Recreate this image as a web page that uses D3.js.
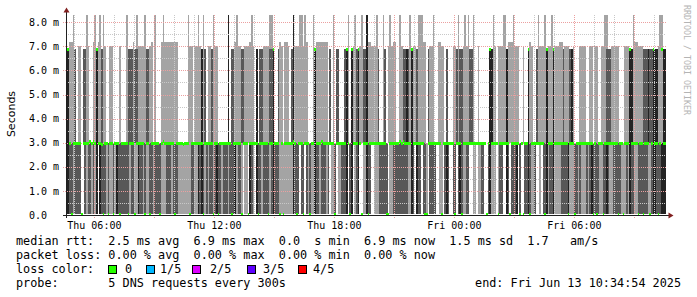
<!DOCTYPE html>
<html>
<head>
<meta charset="utf-8">
<script src="https://cdn.jsdelivr.net/npm/d3@7"></script>
<style>
html, body { margin: 0; padding: 0; background: #fff; }
svg { display: block; }
text { font-family: "DejaVu Sans Mono", monospace; white-space: pre; fill: #000; }
</style>
</head>
<body>
<svg id="chart" width="697" height="297"></svg>
<script>
// ---- data, one char per 5-minute step (360 steps = 30 h) ----
// smoke shade below the 3 ms band: 0 none, 1 light, 2 mid, 3 dark
const smokeLower = [
    "332212222002122121303222121121", "322222221221132212112212222111",
    "222122211111111221132321212212", "322122212223122101103210322122",
    "221232221111111132220220212113", "221222120112011222302301230011",
    "322001112222201122222222211320", "322022102222001102320022023211",
    "220011011220023111012200320222", "302002232112001022312231111222",
    "231112212111212322221122321122", "222111213221122222211233222333"
].join("");
// smoke shade between 3 ms and 7 ms
const smokeUpper = [
    "331112011022110011311211001100", "001000122212211111221101000111",
    "111111100000011101111312011211", "100000030221111221111110302211",
    "112230021101110231111111100003", "111111102010220002310311231122",
    "311111120012011111001122321311", "211111021110011110200011212211",
    "112210010000003311011111311111", "110010031100211111311131111121",
    "112310001111001101100111222111", "110001113311111122232233311133"
].join("");
// top of smoke: 0 normal, 1 slightly higher, 2 light spike to max, 3 dark spike to max
const smokeTop = [
    "001120000000200012012020000000", "000000200010200002000102000121",
    "111111100000020000020020000020", "000000030001200100001200000100",
    "002200001001100030002202100020", "111111100020000000020002000200",
    "311000200020002011002000002000", "022211000020011000000000020002",
    "020020000000000020000022011120", "000000001000020002000200001100",
    "000000000000000000000002200000", "000000000021100000000000002200"
].join("");
// median rtt per step (see medianLevels)
const medianCode = [
    "hhmlmmmmmlmmmmumumhmmdlmmlmmlm", "mmlmmmmlmmmlmmmmmlmmlmmmmmlmum",
    "mmmmmlmmmmdmmmlmmmmmmmlmmmmmlm", "mlmmmmmmmlmmmmmlmmmlmmmmmlmmmm",
    "mlmmhmmmlmlmmmmmumlmmmlmmmlmmh", "mmmummmmmmmlmmmmmmhmlhmmmhmlmm",
    "mlmmmmmmmmmmllmmmmmmumummmmhmm", "mmmmmllmmmmmmmmlmmmmmmmlmmmlmm",
    "mmmmmmmmmmmmlmhmmmmlmmmmmmlmmm", "mmlmlmmhlmmmmmmmmlhmmmhmmmmmmm",
    "mlmmmlmmmmmmmmmmlmlmmmlmmmmmmm", "mlmmlmmmhmmmmlmmlmmmlmhmmlmhmm"
].join("");

const medianLevels = { m: 3.0, u: 3.07, d: 2.93, l: 0.05, h: 6.9 };   // ms
const smokeLevels = { floor: 0.05, band: 3.0, dark: 6.9, light: 7.0, bump: 7.2, spike: 8.3 };
const yTicks = [0, 1, 2, 3, 4, 5, 6, 7, 8];

const legendRows = [
    "median rtt:  2.5 ms avg  6.9 ms max  0.0  s min  6.9 ms now  1.5 ms sd  1.7   am/s",
    "packet loss: 0.00 % avg  0.00 % max  0.00 % min  0.00 % now",
    "loss color:",
    "probe:       5 DNS requests every 300s"
];
const lossLabels = ["0", "1/5", "2/5", "3/5", "4/5"];
const lossColors = ["#26ff00", "#00b8ff", "#dd00ff", "#5e00ff", "#ff0000"];
const endLabel = "end: Fri Jun 13 10:34:54 2025";
const endTime = new Date(Date.UTC(2025, 5, 13, 10, 34, 54));
const spanHours = 30, stepMin = 5;

// ---- chart ----
const shade = [null, "#a4a4a4", "#585858", "#232323"];
const svg = d3.select("#chart");
const startTime = d3.utcHour.offset(endTime, -spanHours);

const x = d3.scaleUtc().domain([startTime, endTime]).range([66, 666]);
const y = d3.scaleLinear().domain([0, 8.3]).range([215, 15]);

const nSteps = smokeUpper.length;
const steps = d3.range(nSteps).map(i => ({
    t0: d3.utcMinute.offset(startTime, i * stepMin),
    t1: d3.utcMinute.offset(startTime, (i + 1) * stepMin),
    low: +smokeLower[i], up: +smokeUpper[i], top: +smokeTop[i], med: medianCode[i]
}));

const bars = [];
steps.forEach(s => {
    const x0 = Math.round(x(s.t0)), x1 = Math.round(x(s.t1));
    if (s.low) bars.push({ x0, x1, v0: smokeLevels.floor, v1: smokeLevels.band, c: shade[s.low] });
    const upTop = s.up === 1 ? (s.top === 1 ? smokeLevels.bump : smokeLevels.light) : smokeLevels.dark;
    if (s.up) bars.push({ x0, x1, v0: smokeLevels.band, v1: upTop, c: shade[s.up] });
    if (s.top >= 2) {
        bars.push({ x0, x1, v0: s.up ? upTop : smokeLevels.band, v1: smokeLevels.spike,
                    c: s.top === 3 ? shade[s.up || 1] : shade[1] });
    }
});

svg.append("g").attr("shape-rendering", "crispEdges")
    .selectAll("rect").data(bars).join("rect")
    .attr("x", d => d.x0).attr("width", d => d.x1 - d.x0)
    .attr("y", d => Math.round(y(d.v1))).attr("height", d => Math.round(y(d.v0)) - Math.round(y(d.v1)))
    .attr("fill", d => d.c);

// grid
const grid = svg.append("g").attr("shape-rendering", "crispEdges").attr("stroke-dasharray", "1,1");
const minorY = d3.range(0.5, 8.3, 0.5).filter(v => v % 1 !== 0);
grid.selectAll(".hmin").data(minorY).join("line")
    .attr("x1", 66).attr("x2", 666)
    .attr("y1", d => Math.round(y(d)) + 0.5).attr("y2", d => Math.round(y(d)) + 0.5)
    .attr("stroke", "#c8c8c8");
const hours = x.ticks(d3.utcHour.every(1));
grid.selectAll(".vmin").data(hours.filter(d => d.getUTCHours() % 3 !== 0)).join("line")
    .attr("x1", d => Math.round(x(d)) + 0.5).attr("x2", d => Math.round(x(d)) + 0.5)
    .attr("y1", 15).attr("y2", 215)
    .attr("stroke", "#c8c8c8");
grid.selectAll(".hmaj").data(yTicks.filter(v => v > 0)).join("line")
    .attr("x1", 63).attr("x2", 666)
    .attr("y1", d => Math.round(y(d)) + 0.5).attr("y2", d => Math.round(y(d)) + 0.5)
    .attr("stroke", "#eba0a0");
grid.selectAll(".vmaj").data(x.ticks(d3.utcHour.every(3))).join("line")
    .attr("x1", d => Math.round(x(d)) + 0.5).attr("x2", d => Math.round(x(d)) + 0.5)
    .attr("y1", 15).attr("y2", 218)
    .attr("stroke", "#eba0a0");

// median band
svg.append("g").attr("shape-rendering", "crispEdges")
    .selectAll("rect").data(steps).join("rect")
    .attr("x", d => Math.round(x(d.t0)))
    .attr("width", d => Math.round(x(d.t1)) - Math.round(x(d.t0)))
    .attr("y", d => Math.round(y(medianLevels[d.med])) - 1)
    .attr("height", 3)
    .attr("fill", lossColors[0]);

// axes
const axis = svg.append("g").attr("shape-rendering", "crispEdges");
axis.append("line").attr("x1", 63).attr("x2", 669).attr("y1", 215.5).attr("y2", 215.5).attr("stroke", "#1f1f1f");
axis.append("line").attr("x1", 66.5).attr("x2", 66.5).attr("y1", 218).attr("y2", 11).attr("stroke", "#1f1f1f");
svg.append("path").attr("d", "M63.5,12.5L69.5,12.5L66.5,7.5Z").attr("fill", "#801f1f");
svg.append("path").attr("d", "M668.5,212.5L668.5,218.5L673.5,215.5Z").attr("fill", "#801f1f");

// tick labels
svg.append("g").selectAll("text").data(yTicks).join("text")
    .attr("x", 29).attr("y", d => y(d) + 3.6)
    .attr("font-size", 10)
    .text(d => d === 0 ? "0.0" : d3.format(".1f")(d) + " m");
const fmt = d3.utcFormat("%a %H:%M");
svg.append("g").selectAll("text").data(x.ticks(d3.utcHour.every(6))).join("text")
    .attr("x", d => x(d)).attr("y", 228.5)
    .attr("text-anchor", "middle").attr("font-size", 10)
    .text(d => fmt(d));

// titles
svg.append("text").attr("transform", "translate(15,114) rotate(-90)")
    .attr("text-anchor", "middle")
    .style("font-family", "'DejaVu Sans', sans-serif").attr("font-size", 11)
    .text("Seconds");
svg.append("text").attr("transform", "translate(684,60) rotate(90)")
    .attr("text-anchor", "middle").attr("font-size", 8.3)
    .style("fill", "#b4b4b4")
    .text("RRDTOOL / TOBI OETIKER");

// legend
const lg = svg.append("g").attr("font-size", 11.8);
lg.selectAll("text.row").data(legendRows).join("text")
    .attr("class", "row")
    .attr("x", 16).attr("y", (d, i) => 245 + i * 14)
    .text(d => d);
const boxX = [108, 146, 192, 247, 298];
const labX = [125, 160, 210, 263, 313];
lg.selectAll("rect.box").data(lossColors).join("rect")
    .attr("class", "box")
    .attr("x", (d, i) => boxX[i] + 0.5).attr("y", 265.5)
    .attr("width", 8).attr("height", 8)
    .attr("fill", d => d).attr("stroke", "#000").attr("stroke-width", 1);
lg.selectAll("text.loss").data(lossLabels).join("text")
    .attr("class", "loss")
    .attr("x", (d, i) => labX[i]).attr("y", 273)
    .text(d => d);
lg.append("text").attr("x", 681).attr("y", 287).attr("text-anchor", "end").text(endLabel);
</script>
</body>
</html>
